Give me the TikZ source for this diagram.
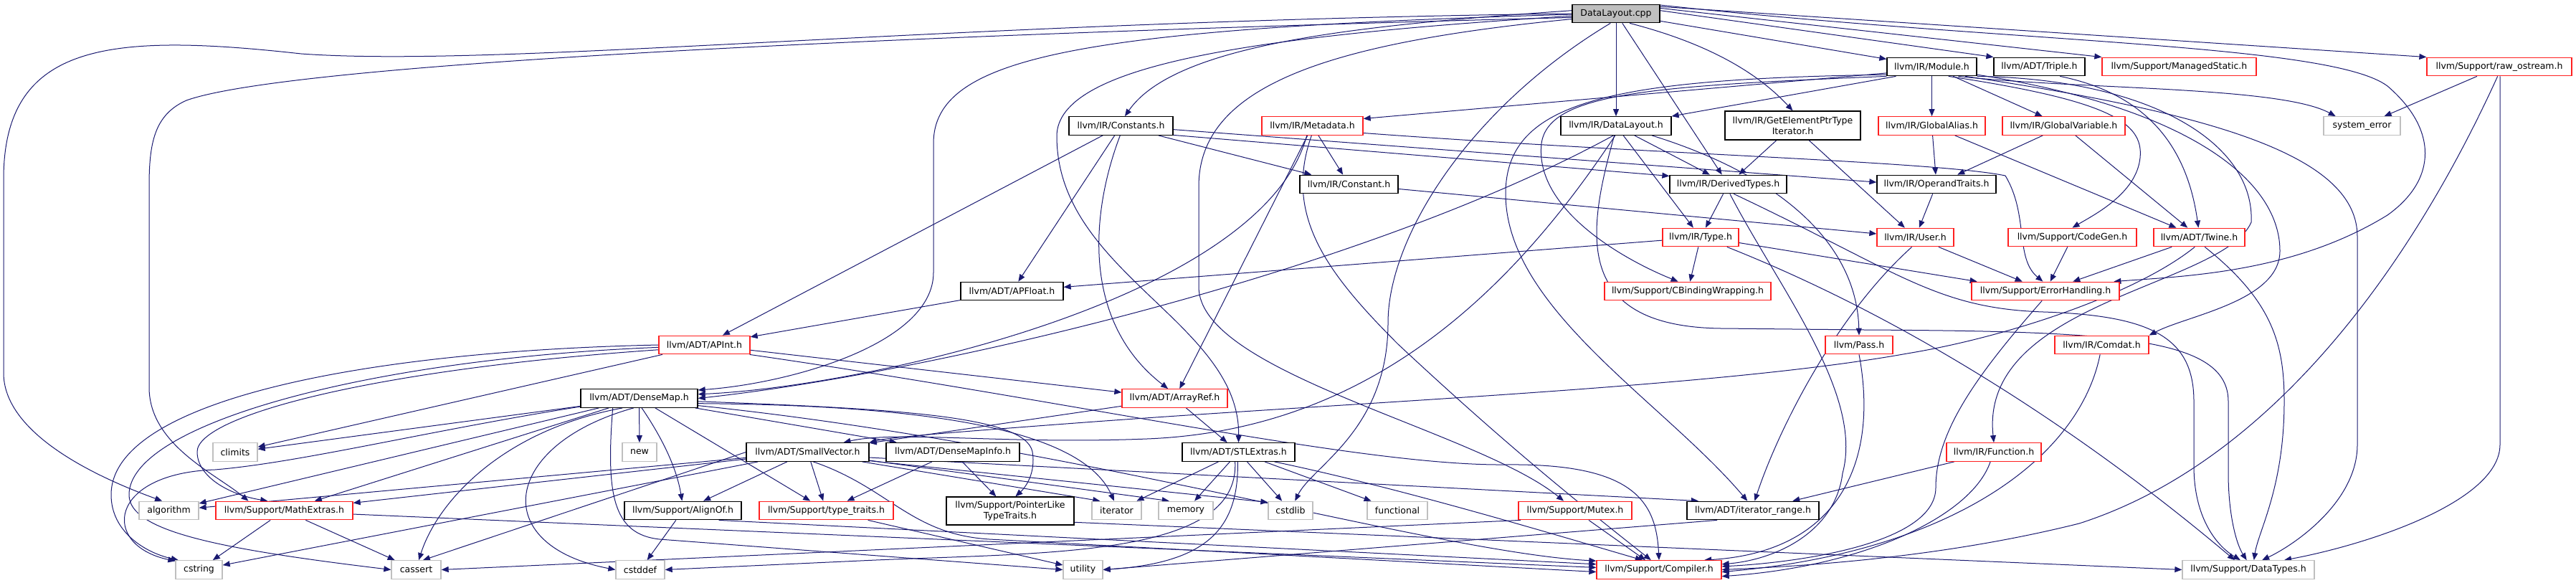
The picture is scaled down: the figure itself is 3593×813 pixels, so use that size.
\documentclass[tikz,border=0pt]{standalone}
\usepackage{fontspec}
\newfontfamily\doxfont{DejaVu Sans}
\usepackage{tikz}
\usetikzlibrary{positioning,arrows.meta}
\usepackage{xcolor}
\definecolor{edgeblue}{HTML}{191970}
\definecolor{boxgray}{HTML}{BFBFBF}
\definecolor{boxred}{HTML}{FF2020}
\pgfdeclarelayer{edges}
\pgfsetlayers{edges,main}

\begin{document}
\begin{tikzpicture}[x=1pt, y=-1pt,
  hdr/.style={draw=black, line width=1.3pt, fill=white, inner sep=1pt, minimum height=25.5, align=center, font=\doxfont\fontsize{12.5}{15}\selectfont},
  redhdr/.style={hdr, draw=boxred},
  syshdr/.style={hdr, draw=boxgray},
  roothdr/.style={hdr, fill=boxgray},
  dep/.style={draw=edgeblue, line width=1pt, -{Triangle[length=10pt,width=8pt]}}]
\useasboundingbox (0,0) rectangle (3593,813);
% top rows
\node[roothdr, minimum width=122] (cpp) at (2254,19) {DataLayout.cpp};
\node[hdr, minimum width=125] (module) at (2694.5,93) {llvm/IR/Module.h};
\node[hdr, minimum width=127] (triple) at (2844.5,93) {llvm/ADT/Triple.h};
\node[redhdr, minimum width=215] (mstatic) at (3039.5,93) {llvm/Support/ManagedStatic.h};
\node[redhdr, minimum width=202] (rawos) at (3486,93) {llvm/Support/raw\_ostream.h};
\node[hdr, minimum width=145] (constants) at (1563.5,175.5) {llvm/IR/Constants.h};
\node[redhdr, minimum width=141] (metadata) at (1830.5,175.5) {llvm/IR/Metadata.h};
\node[hdr, minimum width=154] (dlh) at (2254,175.5) {llvm/IR/DataLayout.h};
\node[hdr, minimum width=189, minimum height=40] (gep) at (2500.5,175) {llvm/IR/GetElementPtrType\\Iterator.h};
\node[redhdr, minimum width=149] (galias) at (2694.5,175.5) {llvm/IR/GlobalAlias.h};
\node[redhdr, minimum width=171] (gvar) at (2878.5,175.5) {llvm/IR/GlobalVariable.h};
\node[syshdr, minimum width=107] (syserr) at (3294.5,175.5) {system\_error};
\node[hdr, minimum width=137] (constant) at (1881.5,257) {llvm/IR/Constant.h};
\node[hdr, minimum width=163] (derived) at (2410.5,257) {llvm/IR/DerivedTypes.h};
\node[hdr, minimum width=166] (optraits) at (2701,257) {llvm/IR/OperandTraits.h};
\node[redhdr, minimum width=106] (type) at (2372,331) {llvm/IR/Type.h};
\node[redhdr, minimum width=107] (user) at (2671.5,331) {llvm/IR/User.h};
\node[redhdr, minimum width=179] (codegen) at (2890.5,331) {llvm/Support/CodeGen.h};
\node[redhdr, minimum width=127] (twine) at (3067.5,331) {llvm/ADT/Twine.h};
\node[hdr, minimum width=143] (apfloat) at (1411.5,406) {llvm/ADT/APFloat.h};
\node[redhdr, minimum width=232] (cbind) at (2354,406) {llvm/Support/CBindingWrapping.h};
\node[redhdr, minimum width=206] (errh) at (2853,406) {llvm/Support/ErrorHandling.h};
\node[redhdr, minimum width=127] (apint) at (982.5,481) {llvm/ADT/APInt.h};
\node[redhdr, minimum width=94] (pass) at (2593,481) {llvm/Pass.h};
\node[redhdr, minimum width=131] (comdat) at (2931.5,481) {llvm/IR/Comdat.h};
\node[hdr, minimum width=163] (densemap) at (891.5,555.5) {llvm/ADT/DenseMap.h};
\node[redhdr, minimum width=147] (arrayref) at (1638.5,555.5) {llvm/ADT/ArrayRef.h};
% lower rows
\node[syshdr, minimum width=62] (climits) at (328,630.5) {climits};
\node[syshdr, minimum width=48] (new) at (892,630.5) {new};
\node[hdr, minimum width=171] (smallvec) at (1126.5,630.5) {llvm/ADT/SmallVector.h};
\node[hdr, minimum width=186] (dmapinfo) at (1329,630.5) {llvm/ADT/DenseMapInfo.h};
\node[hdr, minimum width=157] (stlextras) at (1727.5,630.5) {llvm/ADT/STLExtras.h};
\node[redhdr, minimum width=132] (function) at (2781,630.5) {llvm/IR/Function.h};
\node[syshdr, minimum width=83] (algorithm) at (235.5,712) {algorithm};
\node[redhdr, minimum width=191] (mathext) at (396.5,712) {llvm/Support/MathExtras.h};
\node[hdr, minimum width=163] (alignof) at (952.5,712) {llvm/Support/AlignOf.h};
\node[redhdr, minimum width=187] (typetraits) at (1152.5,712) {llvm/Support/type\_traits.h};
\node[hdr, minimum width=178, minimum height=39] (pltt) at (1409,712.5) {llvm/Support/PointerLike\\TypeTraits.h};
\node[syshdr, minimum width=69] (iterator) at (1557.5,712) {iterator};
\node[syshdr, minimum width=76] (memory) at (1654,712) {memory};
\node[syshdr, minimum width=62] (cstdlib) at (1800,712) {cstdlib};
\node[syshdr, minimum width=84] (functional) at (1949,712) {functional};
\node[redhdr, minimum width=158] (mutex) at (2197,712) {llvm/Support/Mutex.h};
\node[hdr, minimum width=184] (itrange) at (2445,712) {llvm/ADT/iterator\_range.h};
\node[syshdr, minimum width=65] (cstring) at (277.5,794.5) {cstring};
\node[syshdr, minimum width=69] (cassert) at (580.5,794.5) {cassert};
\node[syshdr, minimum width=68] (cstddef) at (893,794.5) {cstddef};
\node[syshdr, minimum width=55] (utility) at (1510.5,794.5) {utility};
\node[redhdr, minimum width=174] (compiler) at (2314,794.5) {llvm/Support/Compiler.h};
\node[syshdr, minimum width=184] (datatypes) at (3136,794.5) {llvm/Support/DataTypes.h};

\begin{pgfonlayer}{edges}
% DataLayout.cpp
\draw[dep] (cpp.west) .. controls (1300,30) and (700,95) .. (420,75) .. controls (150,45) and (5,60) .. (5,250) -- (5,520) .. controls (5,600) and (120,660) .. (algorithm.125);
\draw[dep] (cpp.185) .. controls (1200,50) and (400,90) .. (260,140) .. controls (215,160) and (208,200) .. (208,260) -- (208,540) .. controls (208,620) and (300,660) .. (mathext.165);
\draw[dep] (cpp.176) .. controls (1900,35) and (1640,60) .. (constants.68);
\draw[dep] (cpp.181) .. controls (1500,40) and (1302,80) .. (1302,200) -- (1302,380) .. controls (1302,480) and (1100,535) .. (densemap.8);
\draw[dep] (cpp.183) .. controls (1750,50) and (1474,90) .. (1474,190) .. controls (1474,380) and (1730,450) .. (stlextras.north);
\draw[dep] (cpp.187) .. controls (1850,60) and (1672,120) .. (1672,260) -- (1672,400) .. controls (1672,520) and (2060,600) .. (mutex.140);
\draw[dep] (cpp.240) .. controls (2050,150) and (1936,330) .. (1936,450) .. controls (1936,600) and (1830,650) .. (cstdlib.65);
\draw[dep] (cpp) -- (dlh);
\draw[dep] (cpp) -- (derived);
\draw[dep] (cpp.-35) .. controls (2380,60) and (2450,100) .. (gep.north);
\draw[dep] (cpp) -- (module);
\draw[dep] (cpp.4) -- (triple.north west);
\draw[dep] (cpp.7) -- (mstatic.north west);
\draw[dep] (cpp.9) -- (rawos.north west);
\draw[dep] (cpp.11) .. controls (2800,60) and (3250,60) .. (3330,120) .. controls (3400,180) and (3400,250) .. (3330,300) .. controls (3200,380) and (3050,385) .. (errh.8);
% Module.h
\draw[dep] (module.188) -- (metadata.8);
\draw[dep] (module.195) -- (dlh.north east);
\draw[dep] (module) -- (galias);
\draw[dep] (module) -- (gvar);
\draw[dep] (module.-20) .. controls (2900,125) and (3180,120) .. (syserr.160);
\draw[dep] (module.-30) .. controls (2940,140) and (2990,170) .. (2985,220) .. controls (2980,270) and (2920,300) .. (codegen.north);
\draw[dep] (module.192) .. controls (2300,120) and (2160,130) .. (2150,200) .. controls (2140,290) and (2260,360) .. (cbind.135);
\draw[dep] (module.190) .. controls (2250,110) and (2100,140) .. (2100,270) .. controls (2100,430) and (2320,560) .. (itrange.120);
\draw[dep] (module.-10) .. controls (3050,150) and (3180,250) .. (3180,350) .. controls (3180,420) and (3050,440) .. (comdat.north east);
\draw[dep] (module.-12) .. controls (3000,110) and (3145,200) .. (3140,310) .. controls (3100,400) and (2760,420) .. (function.north);
\draw[dep] (module.-16) .. controls (3100,160) and (3288,220) .. (3288,330) -- (3288,620) .. controls (3288,700) and (3200,760) .. (datatypes.35);
\draw[dep] (triple.-25) .. controls (2990,130) and (3050,200) .. (twine.95);
% raw_ostream.h
\draw[dep] (rawos) -- (syserr);
\draw[dep] (rawos.-100) .. controls (3350,400) and (3150,650) .. (2900,730) .. controls (2700,780) and (2500,790) .. (compiler.east);
\draw[dep] (rawos.-85) -- (3487,620) .. controls (3487,700) and (3300,760) .. (datatypes.15);
% Constants.h and Metadata.h
\draw[dep] (constants) -- (apfloat);
\draw[dep] (constants) -- (apint);
\draw[dep] (constants.-95) .. controls (1520,300) and (1510,450) .. (arrayref.125);
\draw[dep] (constants) -- (constant);
\draw[dep] (constants.-10) -- (derived.172);
\draw[dep] (constants.-4) -- (optraits.178);
\draw[dep] (metadata) -- (constant);
\draw[dep] (metadata.-120) .. controls (1760,420) and (1200,540) .. (densemap.4);
\draw[dep] (metadata) -- (arrayref);
\draw[dep] (metadata.-8) .. controls (2300,215) and (2700,225) .. (2797,245) .. controls (2830,300) and (2810,360) .. (errh.105);
\draw[dep] (metadata.-95) .. controls (1790,300) and (1850,380) .. (1950,480) .. controls (2100,620) and (2200,700) .. (compiler.130);
% DataLayout.h
\draw[dep] (dlh.-105) .. controls (1900,380) and (1300,520) .. (densemap.0);
\draw[dep] (dlh.-95) .. controls (2100,420) and (1900,600) .. (1600,612) .. controls (1400,620) and (1250,600) .. (smallvec.15);
\draw[dep] (dlh) -- (derived);
\draw[dep] (dlh) -- (type);
\draw[dep] (dlh.-15) .. controls (2500,250) and (2590,350) .. (pass.north);
\draw[dep] (dlh.-100) .. controls (2215,320) and (2190,455) .. (2400,458) -- (2600,460) .. controls (2950,462) and (3108,470) .. (3108,560) -- (3108,660) .. controls (3108,720) and (3120,760) .. (datatypes.100);
\draw[dep] (gep) -- (derived);
\draw[dep] (gep) -- (user);
% DerivedTypes.h and Type.h
\draw[dep] (derived) -- (type);
\draw[dep] (derived.-80) .. controls (2480,400) and (2600,550) .. (2570,660) .. controls (2560,740) and (2480,780) .. (compiler.5);
\draw[dep] (derived.-60) .. controls (2650,380) and (2700,430) .. (2850,435) .. controls (3000,440) and (3060,470) .. (3060,560) -- (3060,650) .. controls (3060,720) and (3090,760) .. (datatypes.130);
\draw[dep] (type) -- (apfloat);
\draw[dep] (type) -- (cbind);
\draw[dep] (type.-8) -- (errh.172);
\draw[dep] (type.-20) .. controls (2700,460) and (2950,640) .. (datatypes.145);
% IR headers
\draw[dep] (constant) -- (user);
\draw[dep] (optraits) -- (user);
\draw[dep] (user) -- (errh);
\draw[dep] (user.-110) .. controls (2560,440) and (2480,600) .. (itrange.80);
\draw[dep] (galias) -- (optraits);
\draw[dep] (galias) -- (twine);
\draw[dep] (gvar) -- (optraits);
\draw[dep] (gvar) -- (twine);
\draw[dep] (codegen) -- (errh);
\draw[dep] (twine) -- (errh);
\draw[dep] (twine.-115) .. controls (2980,410) and (2800,470) .. (2660,493) .. controls (2400,540) and (1900,560) .. (1500,590) .. controls (1300,605) and (1240,610) .. (smallvec.north east);
\draw[dep] (twine.-60) .. controls (3170,420) and (3186,480) .. (3186,560) .. controls (3186,680) and (3150,740) .. (datatypes.60);
\draw[dep] (errh.-110) .. controls (2760,520) and (2700,600) .. (2700,680) .. controls (2700,760) and (2500,785) .. (compiler.3);
\draw[dep] (comdat.-100) .. controls (2900,640) and (2720,770) .. (compiler.-2);
\draw[dep] (function) -- (itrange);
\draw[dep] (function.-110) .. controls (2750,720) and (2600,790) .. (compiler.-6);
\draw[dep] (pass.-90) .. controls (2622,650) and (2560,770) .. (compiler.12);
\draw[dep] (mutex) -- (compiler);
\draw[dep] (mutex.190) -- (cassert.east);
\draw[dep] (itrange.195) -- (utility.east);
% ADT headers
\draw[dep] (apfloat) -- (apint);
\draw[dep] (apint) -- (arrayref);
\draw[dep] (apint) -- (climits);
\draw[dep] (apint.west) .. controls (500,490) and (155,560) .. (155,690) .. controls (155,740) and (200,770) .. (cstring.155);
\draw[dep] (apint.183) .. controls (520,500) and (180,590) .. (180,690) .. controls (180,740) and (300,765) .. (cassert.west);
\draw[dep] (apint.186) .. controls (520,515) and (275,580) .. (275,630) .. controls (275,665) and (320,690) .. (mathext.150);
\draw[dep] (apint.-12) .. controls (1500,560) and (1900,650) .. (2100,648) .. controls (2280,646) and (2310,700) .. (compiler.north);
\draw[dep] (arrayref) -- (smallvec);
\draw[dep] (arrayref) -- (stlextras);
\draw[dep] (densemap) -- (dmapinfo);
\draw[dep] (densemap.-75) .. controls (930,620) and (945,660) .. (alignof.95);
\draw[dep] (densemap.-7) .. controls (1500,620) and (2000,770) .. (compiler.172);
\draw[dep] (densemap) -- (mathext);
\draw[dep] (densemap.-3) .. controls (1250,570) and (1430,580) .. (1440,630) .. controls (1445,660) and (1430,680) .. (pltt.70);
\draw[dep] (densemap) -- (typetraits);
\draw[dep] (densemap) -- (algorithm);
\draw[dep] (densemap.-150) .. controls (700,600) and (610,700) .. (cassert.75);
\draw[dep] (densemap) -- (climits);
\draw[dep] (densemap.-120) .. controls (700,620) and (680,760) .. (cstddef.west);
\draw[dep] (densemap.-172) .. controls (600,600) and (420,645) .. (300,655) .. controls (150,660) and (140,760) .. (cstring.160);
\draw[dep] (densemap.-5) .. controls (1300,565) and (1510,600) .. (iterator.105);
\draw[dep] (densemap) -- (new);
\draw[dep] (densemap.-160) .. controls (845,690) and (855,745) .. (920,752) -- (utility.west);
\draw[dep] (smallvec.-5) -- (itrange.170);
\draw[dep] (smallvec) -- (alignof);
\draw[dep] (smallvec.-60) .. controls (1240,680) and (1270,745) .. (1380,752) -- (compiler.182);
\draw[dep] (smallvec) -- (mathext);
\draw[dep] (smallvec) -- (typetraits);
\draw[dep] (smallvec) -- (algorithm);
\draw[dep] (smallvec.west) -- (cassert.55);
\draw[dep] (smallvec.-8) -- (cstdlib.160);
\draw[dep] (smallvec) -- (cstring);
\draw[dep] (smallvec.-10) -- (iterator.150);
\draw[dep] (smallvec) -- (memory.150);
\draw[dep] (dmapinfo) -- (typetraits);
\draw[dep] (dmapinfo) -- (pltt);
\draw[dep] (stlextras.-15) .. controls (1950,680) and (2150,740) .. (compiler.150);
\draw[dep] (stlextras.-95) .. controls (1728,740) and (1680,785) .. (utility.east);
\draw[dep] (stlextras.-110) .. controls (1730,780) and (1450,770) .. (1200,782) -- (cstddef.east);
\draw[dep] (stlextras) -- (cstdlib);
\draw[dep] (stlextras) -- (functional);
\draw[dep] (stlextras) -- (iterator);
\draw[dep] (stlextras) -- (memory);
% Support headers
\draw[dep] (alignof) -- (cstddef);
\draw[dep] (alignof.-15) -- (compiler.175);
\draw[dep] (typetraits) -- (utility);
\draw[dep] (pltt.-10) -- (datatypes.west);
\draw[dep] (mathext.-3) -- (compiler.178);
\draw[dep] (mathext) -- (cassert);
\draw[dep] (mathext) -- (cstring);
\end{pgfonlayer}
\end{tikzpicture}
\end{document}
